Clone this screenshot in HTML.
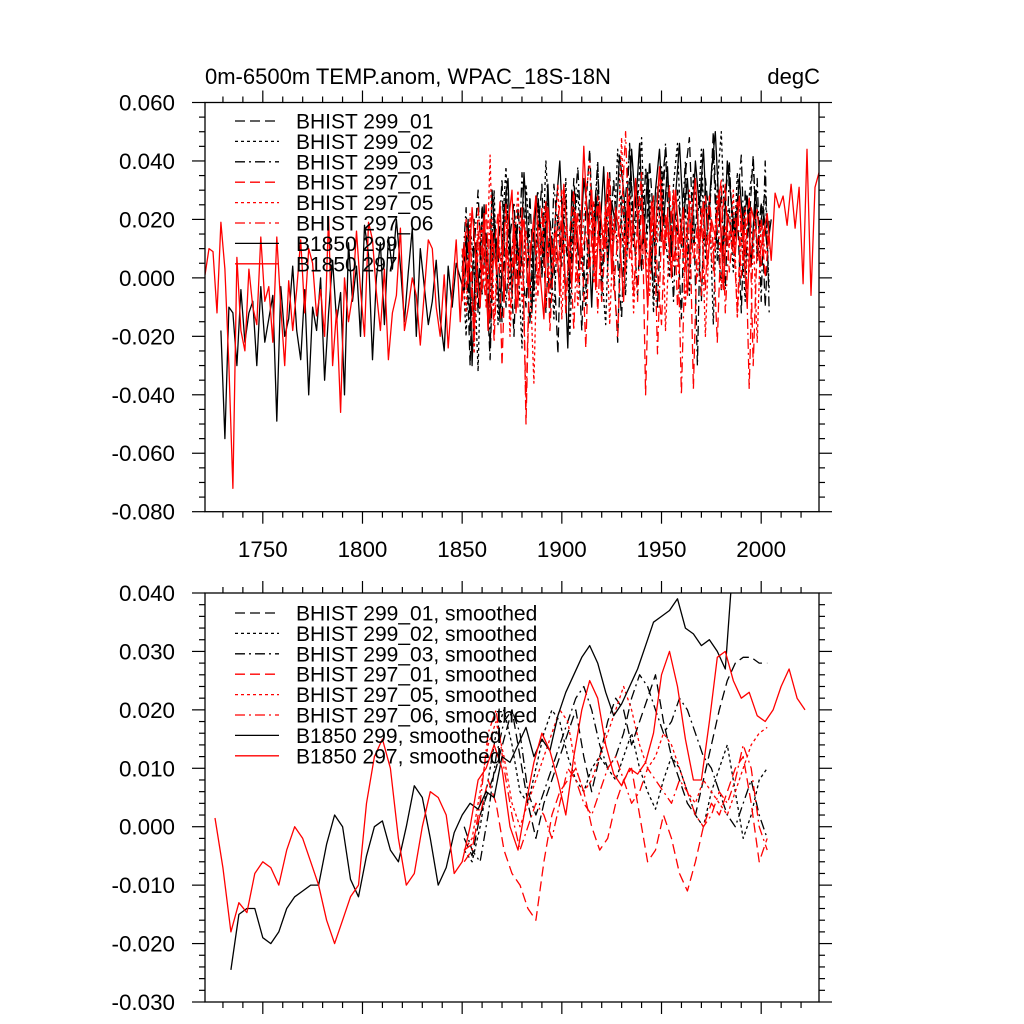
<!DOCTYPE html>
<html><head><meta charset="utf-8"><style>
html,body{margin:0;padding:0;background:#fff;}
svg{display:block;font-family:"Liberation Sans",sans-serif;}
</style></head><body>
<svg id="chart" width="1024" height="1024" viewBox="0 0 1024 1024" xmlns="http://www.w3.org/2000/svg">
<rect width="1024" height="1024" fill="#fff"/>
<text x="205" y="84" font-size="22">0m-6500m TEMP.anom, WPAC_18S-18N</text>
<text x="820" y="84" font-size="22" text-anchor="end">degC</text>
<g id="top"></g>
<g id="bot"></g>
</svg>
<script>
// ---- data (top panel, annual anomalies) ----
const xMinYear = 1721, xMaxYear = 2029;
const xTickYears = [1750, 1800, 1850, 1900, 1950, 2000];
const topYTicks = [-0.08, -0.06, -0.04, -0.02, 0.0, 0.02, 0.04, 0.06];
const topYLabels = ["-0.080","-0.060","-0.040","-0.020","0.000","0.020","0.040","0.060"];
const botYTicks = [-0.03,-0.02,-0.01,0.0,0.01,0.02,0.03,0.04];
const botYLabels = ["-0.030","-0.020","-0.010","0.000","0.010","0.020","0.030","0.040"];
const seriesNames = ["BHIST 299_01","BHIST 299_02","BHIST 299_03","BHIST 297_01","BHIST 297_05","BHIST 297_06","B1850 299","B1850 297"];

// B1850 297: start 1721, every 2 years
const b297Start = 1721;
const b297 = [0.001,0.010,0.009,-0.012,0.019,0.003,-0.030,-0.072,0.007,-0.018,-0.025,0.003,-0.010,-0.016,0.014,
-0.008,-0.003,-0.022,0.014,-0.010,-0.030,-0.001,-0.018,-0.004,0.013,-0.012,0.010,0.005,-0.013,-0.004,
-0.020,0.021,-0.030,-0.011,-0.046,0.000,-0.015,-0.006,0.016,-0.004,-0.020,0.019,0.013,-0.005,-0.018,
0.003,-0.028,-0.012,-0.006,0.017,-0.018,-0.010,0.000,-0.006,-0.023,-0.005,0.013,0.010,-0.010,-0.020,
0.001,-0.024,-0.005,0.013,-0.015,
0.012,-0.002,0.024,0.005,-0.010,0.022,-0.018,0.015,0.003,0.026,-0.008,0.018,0.030,-0.012,0.010,
0.020,-0.003,0.014,0.028,0.002,-0.014,0.024,0.008,0.016,-0.006,0.032,0.011,-0.002,0.022,0.006,
0.045,0.015,0.030,-0.004,0.026,0.010,0.036,0.002,0.024,0.014,-0.008,0.028,0.012,0.034,0.004,
0.020,-0.010,0.026,0.016,0.038,0.008,0.022,0.000,0.030,0.012,0.024,-0.006,0.018,0.034,0.010,
0.026,0.004,0.020,0.014,0.030,-0.004,0.022,0.016,0.008,0.028,0.012,-0.010,0.024,0.018,0.006,
0.015,0.022,0.006,0.029,0.024,0.028,0.018,0.032,0.017,0.031,-0.002,0.044,-0.006,0.031,0.036];
// B1850 299: start 1729, every 2 years
const b299Start = 1729;
const b299 = [-0.018,-0.055,-0.010,-0.012,-0.030,-0.004,-0.022,-0.012,-0.008,-0.030,-0.003,-0.022,-0.014,-0.006,-0.049,
-0.003,-0.020,-0.014,0.004,-0.018,-0.028,-0.004,-0.040,-0.010,-0.018,0.000,-0.035,-0.012,0.006,-0.015,
-0.005,-0.040,0.012,-0.008,0.004,-0.020,0.018,0.008,-0.028,0.000,0.012,-0.016,0.014,0.003,0.020,
0.004,-0.015,0.002,0.017,-0.020,0.010,-0.003,-0.016,-0.008,0.006,-0.014,-0.025,0.004,-0.010,0.005,
0.000,-0.005,0.020,-0.030,0.012,-0.010,0.025,-0.018,0.030,0.008,-0.015,0.022,0.034,-0.006,0.018,
0.000,0.036,0.012,-0.012,0.028,0.020,0.004,0.032,-0.004,0.024,0.040,0.010,-0.024,0.030,0.016,
0.006,0.034,0.022,-0.010,0.028,0.014,0.038,0.004,0.026,0.018,0.042,0.030,0.010,0.044,0.024,
0.046,0.012,0.036,0.002,0.030,0.044,0.018,0.038,0.008,0.028,0.046,0.020,0.034,0.012,0.040,
0.024,0.044,0.016,0.036,0.050,0.022,0.008,0.040,0.026,0.014,0.034,0.018,0.028,0.004,0.030,
0.016,0.024,0.010,0.020];
// BHIST: start 1850, every 2 years
const histStart = 1850;
const h299_01 = [-0.005,0.015,-0.030,0.020,-0.012,0.025,0.002,-0.028,0.018,0.008,-0.015,0.030,0.010,-0.020,0.024,0.004,-0.010,0.028,-0.004,0.016,
0.032,-0.012,0.020,0.006,-0.026,0.026,0.012,-0.002,0.034,0.010,-0.018,0.024,0.044,0.008,0.030,-0.008,0.022,0.036,0.004,-0.022,
0.028,0.014,0.046,0.018,-0.006,0.032,0.010,0.040,0.020,-0.010,0.030,0.044,0.006,0.026,0.016,-0.014,0.036,0.048,0.012,0.024,
-0.008,0.034,0.020,0.050,0.014,-0.004,0.028,0.040,0.010,0.024,-0.012,0.030,0.018,0.042,0.008,0.026,-0.010,0.020];
const h299_02 = [0.008,-0.020,0.018,0.004,-0.032,0.024,0.010,-0.010,0.030,-0.016,0.014,0.038,-0.004,0.020,0.006,-0.024,0.032,0.012,-0.008,0.026,
0.002,0.040,0.014,-0.014,0.022,0.008,0.034,-0.020,0.018,0.030,0.004,-0.010,0.024,0.016,0.038,0.002,-0.016,0.028,0.012,0.044,
0.020,-0.006,0.034,0.010,0.026,0.048,0.004,0.030,-0.012,0.022,0.038,0.014,0.000,0.032,0.046,0.010,0.024,-0.006,0.036,0.018,
0.044,0.006,0.028,-0.016,0.032,0.050,0.012,0.024,0.002,0.036,0.016,-0.008,0.028,0.040,0.006,0.020,0.030,-0.004];
const h299_03 = [0.002,0.024,-0.018,0.010,0.030,-0.006,0.016,-0.024,0.022,0.006,0.034,-0.010,0.014,0.026,-0.002,0.036,0.008,-0.016,0.020,0.030,
0.000,0.024,-0.012,0.032,0.016,0.004,0.028,-0.008,0.020,0.038,0.010,-0.004,0.030,0.018,0.040,-0.002,0.024,0.012,0.034,0.006,
-0.014,0.028,0.044,0.016,0.030,0.002,0.038,0.020,-0.006,0.032,0.012,0.046,0.024,-0.008,0.030,0.016,0.040,0.004,0.026,-0.030,
0.034,0.012,0.022,0.044,0.006,0.030,-0.004,0.036,0.016,0.026,0.042,0.002,0.024,0.010,0.034,-0.008,0.040,-0.012];
const h297_01 = [-0.008,0.020,0.004,-0.022,0.016,-0.004,0.026,-0.014,0.010,0.022,-0.030,0.012,0.002,0.018,-0.010,0.024,-0.050,0.008,0.020,-0.006,
0.014,0.026,-0.018,0.010,0.002,0.024,-0.012,0.016,0.030,-0.002,0.012,-0.024,0.020,0.006,0.028,-0.008,0.014,0.034,0.000,-0.020,
0.018,0.008,0.028,-0.006,0.020,0.036,-0.040,0.012,0.024,0.002,-0.016,0.022,0.010,0.030,-0.010,0.016,0.004,0.026,-0.038,0.014,
0.020,-0.004,0.028,0.010,-0.022,0.018,0.032,0.002,0.016,-0.012,0.022,0.008,0.028,-0.030,0.012,0.020,0.000,0.016];
const h297_05 = [0.004,-0.012,0.022,-0.026,0.010,0.018,-0.006,0.042,-0.016,0.014,0.004,0.024,-0.020,0.010,0.030,-0.008,0.016,0.002,-0.036,0.020,
0.008,0.026,-0.004,0.014,0.032,-0.014,0.018,0.004,0.024,-0.010,0.012,0.028,0.040,-0.002,0.016,0.006,0.026,-0.016,0.020,0.010,
0.048,0.002,0.024,-0.012,0.018,0.030,0.008,-0.006,0.022,0.012,0.034,-0.018,0.014,0.026,0.004,0.020,-0.010,0.030,0.014,0.000,
0.024,-0.020,0.016,0.008,0.028,-0.004,0.018,0.010,0.030,-0.014,0.012,0.024,0.002,0.016,-0.022,0.020,0.008,0.014];
const h297_06 = [0.010,-0.004,0.016,-0.018,0.024,0.006,-0.010,0.020,-0.022,0.012,0.002,0.026,-0.014,0.016,0.006,0.022,-0.044,0.010,0.018,0.000,
0.024,-0.010,0.014,0.004,0.020,0.030,-0.006,0.012,-0.018,0.022,0.008,0.016,0.002,0.026,-0.012,0.018,0.010,0.030,-0.004,0.014,
0.022,0.050,0.006,0.018,-0.008,0.026,0.014,0.002,0.028,-0.026,0.016,0.010,0.032,0.004,0.020,-0.040,0.012,0.024,0.006,0.018,
-0.006,0.028,0.014,0.002,0.022,0.034,-0.012,0.016,0.008,0.026,0.000,0.020,-0.038,0.014,0.024,0.004,0.018,0.010];

// ---- data (bottom panel, smoothed), every 4 years ----
const sb297Start = 1726;
const sb297 = [0.0015,-0.007,-0.018,-0.013,-0.0147,-0.008,-0.006,-0.007,-0.010,-0.004,0.000,-0.002,-0.006,-0.010,-0.016,-0.020,-0.016,-0.012,-0.010,0.004,
0.012,0.015,0.010,-0.002,-0.010,-0.008,0.000,0.006,0.005,0.002,-0.008,-0.006,0.000,0.008,0.010,0.014,0.010,0.000,-0.004,0.004,
0.011,0.016,0.013,0.008,0.002,0.012,0.020,0.025,0.022,0.014,0.009,0.007,0.010,0.009,0.011,0.016,0.026,0.030,0.024,0.015,
0.008,0.008,0.018,0.029,0.030,0.025,0.022,0.023,0.019,0.018,0.020,0.024,0.027,0.022,0.020];
const sb299Start = 1734;
const sb299 = [-0.0245,-0.015,-0.014,-0.014,-0.019,-0.020,-0.018,-0.014,-0.012,-0.011,-0.010,-0.010,-0.003,0.002,0.000,-0.009,-0.012,-0.005,0.000,0.001,
-0.004,-0.006,0.000,0.007,0.005,-0.002,-0.010,-0.007,-0.001,0.002,0.004,0.003,0.006,0.005,0.012,0.011,0.014,0.017,0.012,0.015,
0.013,0.019,0.023,0.026,0.029,0.031,0.028,0.023,0.019,0.021,0.024,0.027,0.031,0.035,0.036,0.037,0.039,0.034,0.033,0.031,
0.032,0.030,0.027,0.046];
const sHistStart = 1851;
const s299_01 = [-0.002,-0.005,0.002,0.006,0.010,0.015,0.020,0.012,0.004,-0.002,0.004,0.008,0.012,0.016,0.020,0.012,0.006,0.012,0.018,0.022,0.020,0.014,0.018,0.022,0.026,0.018,0.012,0.008,0.004,0.002,0.008,0.014,0.020,0.025,0.028,0.029,0.029,0.028,0.028];
const s299_02 = [-0.004,-0.006,0.000,0.008,0.016,0.020,0.014,0.006,0.004,0.010,0.016,0.020,0.018,0.012,0.008,0.006,0.010,0.012,0.010,0.008,0.012,0.016,0.010,0.006,0.003,0.008,0.012,0.010,0.006,0.002,0.000,0.006,0.010,0.014,0.006,-0.002,0.002,0.008,0.010];
const s299_03 = [0.000,-0.004,-0.006,0.002,0.012,0.018,0.020,0.016,0.006,0.002,0.006,0.010,0.014,0.018,0.022,0.024,0.020,0.014,0.010,0.012,0.016,0.022,0.026,0.024,0.020,0.016,0.018,0.022,0.020,0.016,0.012,0.010,0.006,0.002,0.000,0.004,0.008,0.002,-0.002];
const s297_01 = [-0.004,-0.003,0.002,0.008,0.004,-0.004,-0.008,-0.010,-0.014,-0.016,-0.006,0.002,0.006,0.008,0.010,0.006,0.000,-0.004,-0.002,0.004,0.008,0.010,0.002,-0.006,-0.004,0.002,-0.002,-0.008,-0.011,-0.006,0.000,0.004,0.002,0.006,0.010,0.012,0.004,-0.006,-0.002];
const s297_05 = [-0.004,-0.002,0.006,0.014,0.018,0.012,0.004,0.000,0.004,0.008,0.012,0.016,0.020,0.018,0.010,0.006,0.008,0.012,0.016,0.020,0.024,0.020,0.014,0.010,0.012,0.016,0.014,0.010,0.006,0.004,0.008,0.006,0.004,0.002,0.006,0.010,0.014,0.016,0.017];
const s297_06 = [-0.006,-0.004,0.004,0.016,0.020,0.010,0.002,-0.004,0.000,0.004,0.002,-0.002,0.004,0.010,0.008,0.004,0.002,0.006,0.010,0.012,0.008,0.004,0.006,0.010,0.008,0.006,0.004,0.008,0.006,0.002,0.000,0.002,0.006,0.004,0.008,0.014,0.010,0.000,-0.004];

const NS = "http://www.w3.org/2000/svg";
const X0 = 205, X1 = 819;
function xs(yr){ return X0 + (yr - xMinYear) / (xMaxYear - xMinYear) * (X1 - X0); }
function mk(tag, attrs, parent){
  const e = document.createElementNS(NS, tag);
  for (const k in attrs) e.setAttribute(k, attrs[k]);
  parent.appendChild(e); return e;
}
const styles = [
  {c:"#000", d:"10,5"}, {c:"#000", d:"3,3"}, {c:"#000", d:"10,4,2,4"},
  {c:"#f00", d:"10,5"}, {c:"#f00", d:"3,3"}, {c:"#f00", d:"10,4,2,4"},
  {c:"#000", d:""}, {c:"#f00", d:""}
];

function panel(g, Y0, Y1, vmin, vmax, yTicks, yLabels, minorStep, showX, series, suffix, legTop){
  const ys = v => Y1 - (v - vmin) / (vmax - vmin) * (Y1 - Y0);
  const cid = "clip" + Math.round(Y0);
  const defs = mk("defs", {}, g);
  const cp = mk("clipPath", {id: cid}, defs);
  mk("rect", {x: X0, y: Y0, width: X1 - X0, height: Y1 - Y0}, cp);
  const lines = mk("g", {"clip-path": "url(#" + cid + ")"}, g);
  series.forEach((s, i) => {
    let d = "";
    s.vals.forEach((v, j) => { const yr = s.start + j * s.step; d += (j ? "L" : "M") + xs(yr).toFixed(1) + "," + ys(v).toFixed(1); });
    const p = mk("path", {d: d, fill: "none", stroke: styles[s.k].c, "stroke-width": "1.3", "stroke-linejoin": "round"}, lines);
    if (styles[s.k].d) p.setAttribute("stroke-dasharray", styles[s.k].d);
    
    
  });
  const fr = mk("rect", {x: X0, y: Y0, width: X1 - X0, height: Y1 - Y0, fill: "none", stroke: "#000", "stroke-width": "1.3"}, g);
  
  
  const axg = mk("g", {stroke: "#000", "stroke-width": "1.2"}, g);
  
  
  const nMinor = Math.round((vmax - vmin) / minorStep);
  for (let i = 0; i <= nMinor; i++) {
    const v = vmin + i * minorStep; const y = ys(v);
    const major = yTicks.some(t => Math.abs(t - v) < 1e-9);
    const L = major ? 13 : 6;
    mk("line", {x1: X0 - L, y1: y, x2: X0, y2: y}, axg);
    mk("line", {x1: X1, y1: y, x2: X1 + L, y2: y}, axg);
  }
  yTicks.forEach((t, i) => {
    const tx = mk("text", {x: 175, y: ys(t) + 8, "font-size": 22.4, "text-anchor": "end"}, g);
    tx.textContent = yLabels[i];
    
    
  });
  for (let yr = 1730; yr <= 2020; yr += 10) {
    const x = xs(yr); const major = xTickYears.includes(yr); const L = major ? 12 : 6;
    mk("line", {x1: x, y1: Y0 - L, x2: x, y2: Y0}, axg);
    mk("line", {x1: x, y1: Y1, x2: x, y2: Y1 + L}, axg);
  }
  if (showX) xTickYears.forEach(yr => {
    const tx = mk("text", {x: xs(yr), y: Y1 + 45.5, "font-size": 22.4, "text-anchor": "middle"}, g);
    tx.textContent = String(yr);
    
    
  });
  const lg = mk("g", {}, g);
  
  
  seriesNames.forEach((n, i) => {
    const cy = legTop + i * 20.4;
    const e = mk("g", {}, lg);
    
    
    const ln = mk("line", {x1: 235, y1: cy, x2: 279, y2: cy, stroke: styles[i].c, "stroke-width": "1.3"}, e);
    if (styles[i].d) ln.setAttribute("stroke-dasharray", styles[i].d);
    const t = mk("text", {x: 296, y: cy + 7.5, "font-size": 21}, e);
    t.textContent = n + suffix;
  });
}

panel(document.getElementById("top"), 102.5, 511.7, -0.08, 0.06, topYTicks, topYLabels, 0.005, true, [
  {k:0, start:histStart, step:2, vals:h299_01},
  {k:1, start:histStart, step:2, vals:h299_02},
  {k:2, start:histStart, step:2, vals:h299_03},
  {k:6, start:b299Start, step:2, vals:b299},
  {k:3, start:histStart, step:2, vals:h297_01},
  {k:4, start:histStart, step:2, vals:h297_05},
  {k:5, start:histStart, step:2, vals:h297_06},
  {k:7, start:b297Start, step:2, vals:b297}
], "", 121);

panel(document.getElementById("bot"), 593, 1002, -0.03, 0.04, botYTicks, botYLabels, 0.002, false, [
  {k:0, start:sHistStart, step:4, vals:s299_01},
  {k:1, start:sHistStart, step:4, vals:s299_02},
  {k:2, start:sHistStart, step:4, vals:s299_03},
  {k:3, start:sHistStart, step:4, vals:s297_01},
  {k:4, start:sHistStart, step:4, vals:s297_05},
  {k:5, start:sHistStart, step:4, vals:s297_06},
  {k:6, start:sb299Start, step:4, vals:sb299},
  {k:7, start:sb297Start, step:4, vals:sb297}
], ", smoothed", 613);
</script>
</body></html>
